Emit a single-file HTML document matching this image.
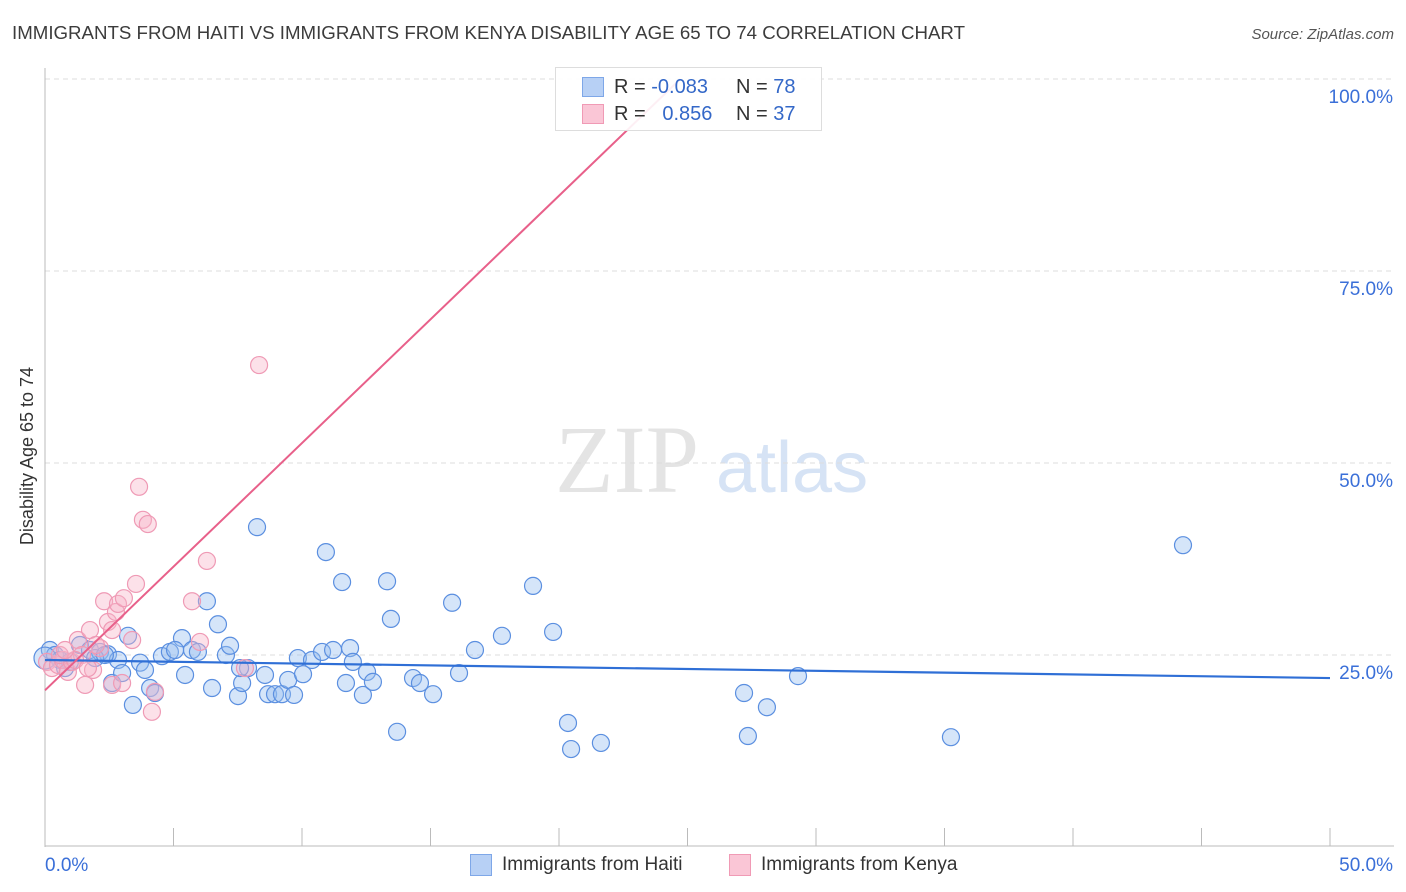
<!DOCTYPE html>
<html><head><meta charset="utf-8"><style>
body{margin:0;background:#fff;font-family:"Liberation Sans",sans-serif;}
#wrap{position:relative;width:1406px;height:892px;overflow:hidden;}
</style></head><body>
<div id="wrap">
<svg id="svg" width="1406" height="892" xmlns="http://www.w3.org/2000/svg">
<text x="12" y="39" font-size="18" fill="#3c3c3c" textLength="953" lengthAdjust="spacingAndGlyphs">IMMIGRANTS FROM HAITI VS IMMIGRANTS FROM KENYA DISABILITY AGE 65 TO 74 CORRELATION CHART</text>
<text x="1394" y="39" font-size="15" fill="#555" font-style="italic" text-anchor="end">Source: ZipAtlas.com</text>
<text x="33" y="456" font-size="18" fill="#333" text-anchor="middle" transform="rotate(-90 33 456)">Disability Age 65 to 74</text>
<text x="555" y="492" font-size="96" fill="#e4e4e4" font-family="Liberation Serif,serif">ZIP</text>
<text x="716" y="492" font-size="72" fill="#d6e3f5">atlas</text>
<g id="grid"></g><g id="pts"></g><g id="lines"></g>
</svg>
<div style="position:absolute;left:555px;top:67px;width:265px;height:62px;border:1px solid #ddd;background:rgba(255,255,255,0.9);font-size:20px;color:#333;">
 <div style="position:absolute;left:26px;top:9px;width:20px;height:18px;background:#b7d0f5;border:1px solid #7ea7e8;"></div>
 <div style="position:absolute;left:58px;top:8px;">R = <span style="color:#3468c8">-0.083</span></div>
 <div style="position:absolute;left:180px;top:8px;">N = <span style="color:#3468c8">78</span></div>
 <div style="position:absolute;left:26px;top:36px;width:20px;height:18px;background:#fac6d6;border:1px solid #f09ab5;"></div>
 <div style="position:absolute;left:58px;top:35px;">R = <span style="color:#3468c8">&nbsp;&nbsp;0.856</span></div>
 <div style="position:absolute;left:180px;top:35px;">N = <span style="color:#3468c8">37</span></div>
</div>
<div style="position:absolute;left:470px;top:853px;font-size:19px;color:#333;">
 <div style="position:absolute;left:0;top:1px;width:20px;height:20px;background:#b7d0f5;border:1px solid #7ea7e8;"></div>
 <div style="position:absolute;left:32px;top:1px;white-space:nowrap;">Immigrants from Haiti</div>
 <div style="position:absolute;left:259px;top:1px;width:20px;height:20px;background:#fac6d6;border:1px solid #f09ab5;"></div>
 <div style="position:absolute;left:291px;top:1px;white-space:nowrap;">Immigrants from Kenya</div>
</div>
</div>
<script>
const haitiX=[0.19,0.39,0.58,0.97,1.36,1.75,2.14,2.45,2.84,2.61,3.0,3.23,3.42,3.70,3.89,4.09,4.28,4.55,4.86,5.33,5.45,5.72,5.95,6.30,6.50,6.73,7.04,7.20,7.51,7.67,7.90,8.25,8.56,8.68,8.95,9.22,9.46,9.69,9.84,10.04,10.39,10.78,10.93,11.21,11.56,11.71,11.87,11.98,12.37,12.53,12.76,13.31,13.46,13.70,14.32,14.59,15.10,15.84,16.11,16.73,17.78,18.99,19.77,20.35,20.47,21.63,27.2,27.35,28.09,29.3,35.25,44.28,0,0.78,1.95,2.33,5.06,7.59];
const haitiY=[25.65,25.0,24.35,24.1,26.3,25.65,25.4,25.1,24.35,21.35,22.65,27.5,18.5,24.0,23.05,20.7,20.05,24.85,25.4,27.2,22.4,25.65,25.4,32.0,20.7,29.0,25.0,26.2,19.65,21.35,23.3,41.65,22.4,19.9,19.9,19.9,21.75,19.8,24.6,22.5,24.35,25.4,38.4,25.65,34.5,21.35,25.9,24.1,19.8,22.8,21.5,34.6,29.7,15.0,22.0,21.35,19.9,31.8,22.65,25.65,27.5,34.0,28.0,16.15,12.75,13.55,20.05,14.45,18.2,22.25,14.3,39.3,24.6,23.3,24.6,25.0,25.65,23.3];
const kenyaX=[0.08,0.27,0.51,0.70,0.89,1.05,1.28,1.44,1.56,1.75,1.87,2.14,2.30,2.45,2.61,2.76,2.84,3.0,3.07,3.39,3.54,3.66,3.81,4.0,4.16,4.28,5.72,6.03,6.30,7.78,8.33,0.58,1.17,1.98,1.67,2.61,0.78];
const kenyaY=[24.1,23.3,23.7,24.35,22.8,24.1,26.95,25.0,21.1,28.25,23.05,25.9,32.0,29.3,21.1,30.6,31.65,21.35,32.4,26.95,34.25,46.9,42.6,42.05,17.6,20.2,32.0,26.7,37.25,23.3,62.75,25.0,24.35,26.3,23.3,28.25,25.65];
const yTicks=[25,50,75,100];
const yTickLabels=["25.0%","50.0%","75.0%","100.0%"];
const haitiTrend=[24.35,22.0];
const kenyaTrend=[20.4,3.22];
const NS="http://www.w3.org/2000/svg";
const sx=v=>45+v*25.7, sy=v=>847-v*7.68;
function mk(tag,attrs,parent){const e=document.createElementNS(NS,tag);for(const k in attrs)e.setAttribute(k,attrs[k]);parent.appendChild(e);return e;}
const grid=document.getElementById('grid'),pts=document.getElementById('pts'),lines=document.getElementById('lines');
yTicks.forEach((t,i)=>{
 let l=mk('line',{x1:45,x2:1394,y1:sy(t),y2:sy(t),stroke:'#ddd','stroke-dasharray':'5,4'},grid);
 
 
 let tx=mk('text',{x:1393,y:sy(t)+24,'font-size':19,fill:'#3a6fd8','text-anchor':'end'},grid);
 tx.textContent=yTickLabels[i];
 
 
});
let ax=mk('line',{x1:45,x2:45,y1:68,y2:847,stroke:'#bbb'},grid);


let bx=mk('line',{x1:45,x2:1394,y1:846,y2:846,stroke:'#bbb'},grid);


for(let i=1;i<=10;i++){let t=mk('line',{x1:sx(i*5),x2:sx(i*5),y1:828,y2:846,stroke:'#bbb'},grid);
 
 }
[["0.0%",45,'start'],["50.0%",1393,'end']].forEach(a=>{let t=mk('text',{x:a[1],y:871,'font-size':19,fill:'#3a6fd8','text-anchor':a[2]},grid);t.textContent=a[0];
 
 });
haitiX.forEach((x,i)=>{let c=mk('circle',{cx:sx(x),cy:sy(haitiY[i]),r:(x===0?11:8.5),fill:'rgba(150,190,240,0.4)',stroke:'#5b8fe0','stroke-width':1.2},pts);
 
 });
kenyaX.forEach((x,i)=>{let c=mk('circle',{cx:sx(x),cy:sy(kenyaY[i]),r:8.5,fill:'rgba(248,180,200,0.4)',stroke:'#ef9ab5','stroke-width':1.2},pts);
 
 });
let hl=mk('line',{x1:sx(0),y1:sy(haitiTrend[0]),x2:sx(50),y2:sy(haitiTrend[1]),stroke:'#2f6fd6','stroke-width':2.2},lines);


const kx2=(100-kenyaTrend[0])/kenyaTrend[1];
let kl=mk('line',{x1:sx(0),y1:sy(kenyaTrend[0]),x2:sx(kx2),y2:sy(100),stroke:'#e8608a','stroke-width':2},lines);


</script>
</body></html>
